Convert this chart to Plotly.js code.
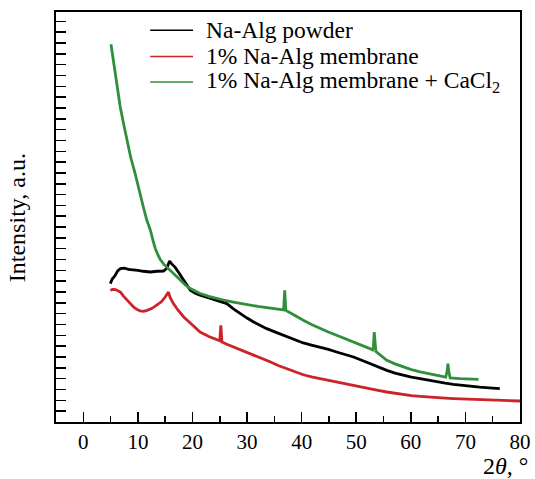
<!DOCTYPE html>
<html>
<head>
<meta charset="utf-8">
<script src="https://cdn.plot.ly/plotly-3.0.1.min.js"></script>
<style>
  html, body { margin: 0; padding: 0; background: #fff; }
  #chart { width: 535px; height: 479px; }
</style>
</head>
<body>
<div id="chart"></div>
<script>
// ---- data ----
const seriesNames = ["Na-Alg powder", "1% Na-Alg membrane", "1% Na-Alg membrane + CaCl<sub>2</sub>"];
const seriesColors = ["#000000", "#cc2229", "#2f8f3a"];

const powderX = [4.95, 5.3, 5.86, 6.3, 6.8, 7.5, 8.3, 9.2, 10.0, 11.0, 12.3, 13.5, 14.7, 15.3, 15.8, 16.2, 16.8, 17.6, 18.4, 19.0, 19.6, 20.5, 21.4, 23.0, 24.5, 25.5, 26.3, 27.5, 28.7, 30.0, 31.2, 32.4, 33.6, 35.2, 36.7, 38.0, 39.1, 40.3, 41.8, 43.4, 44.9, 46.4, 48.0, 49.5, 51.0, 52.5, 54.0, 55.6, 57.1, 58.6, 60.1, 61.7, 63.2, 64.8, 66.3, 67.8, 69.3, 70.8, 72.6, 74.4, 76.3];
const powderY = [1278, 1320, 1355, 1395, 1416, 1420, 1410, 1407, 1400, 1392, 1385, 1392, 1394, 1420, 1487, 1460, 1431, 1370, 1308, 1260, 1216, 1190, 1170, 1145, 1124, 1110, 1093, 1045, 1001, 960, 923, 890, 862, 830, 801, 775, 754, 730, 710, 693, 670, 646, 623, 600, 570, 539, 508, 477, 452, 431, 415, 401, 385, 369, 358, 348, 338, 330, 322, 315, 308];

const membraneX = [4.95, 5.4, 5.9, 6.3, 6.8, 7.4, 8.0, 8.6, 9.2, 9.8, 10.4, 11.0, 11.7, 12.6, 13.5, 14.3, 15.0, 15.35, 15.6, 15.9, 16.5, 17.4, 18.4, 19.9, 21.4, 23.0, 24.5, 25.0, 25.2, 25.4, 26.4, 27.5, 29.0, 30.6, 32.4, 34.2, 35.7, 37.3, 38.8, 40.3, 41.8, 43.4, 44.9, 46.4, 48.0, 49.5, 51.0, 52.5, 54.0, 55.6, 57.1, 58.6, 60.1, 61.7, 63.2, 64.8, 66.3, 67.8, 69.3, 70.8, 72.3, 73.9, 75.5, 77.0, 78.5, 80.0];
const membraneY = [1216, 1225, 1223, 1215, 1200, 1160, 1124, 1090, 1062, 1040, 1025, 1022, 1031, 1050, 1078, 1110, 1154, 1180, 1200, 1150, 1093, 1030, 970, 900, 831, 790, 761, 750, 893, 739, 715, 693, 660, 632, 594, 556, 522, 490, 460, 436, 416, 399, 383, 369, 354, 339, 323, 308, 292, 277, 264, 253, 244, 237, 230, 225, 220, 216, 213, 210, 206, 203, 201, 200, 197, 194];

const cacl2X = [5.07, 5.4, 5.86, 6.3, 6.77, 7.4, 8.0, 8.7, 9.5, 10.2, 11.0, 11.6, 12.3, 12.8, 13.2, 13.7, 14.1, 14.7, 15.3, 16.0, 16.5, 17.2, 17.8, 18.7, 19.6, 20.5, 21.4, 23.0, 24.5, 26.0, 27.5, 29.0, 30.6, 32.0, 33.6, 35.0, 36.4, 36.7, 36.9, 37.1, 37.4, 38.8, 40.3, 41.8, 43.4, 44.9, 46.4, 48.0, 49.5, 51.0, 52.5, 53.0, 53.15, 53.3, 53.45, 53.6, 54.6, 55.6, 57.1, 58.6, 60.1, 61.7, 63.2, 64.8, 66.4, 66.65, 66.8, 66.95, 67.2, 69.0, 70.7, 72.4];
const cacl2Y = [3488, 3380, 3217, 3060, 2909, 2750, 2601, 2440, 2294, 2140, 1985, 1870, 1770, 1670, 1600, 1540, 1500, 1460, 1431, 1395, 1370, 1335, 1308, 1265, 1232, 1206, 1186, 1160, 1139, 1122, 1108, 1093, 1078, 1067, 1056, 1044, 1031, 1035, 1216, 1030, 1022, 980, 939, 900, 862, 831, 801, 770, 739, 708, 678, 665, 700, 831, 700, 650, 610, 570, 537, 508, 484, 462, 445, 431, 415, 470, 539, 470, 408, 401, 397, 394];

const xTickVals = [0, 10, 20, 30, 40, 50, 60, 70, 80];
const xTickText = ["0", "10", "20", "30", "40", "50", "60", "70", "80"];
const xTitle = "2<i>θ</i>, °";
const yTitle = "Intensity, a.u.";

// ---- chart ----
const FONT = "'Liberation Serif', 'Times New Roman', Times, serif";
const xs = [powderX, membraneX, cacl2X];
const ys = [powderY, membraneY, cacl2Y];

const traces = xs.map((x, i) => ({
  x: x, y: ys[i], type: "scatter", mode: "lines",
  name: seriesNames[i], showlegend: false,
  line: { color: seriesColors[i], width: 2.8 }
}));

// manual legend (lines + labels) in paper coordinates
const legendRowsY = [0.9554, 0.8915, 0.8293];
const shapes = seriesNames.map((n, i) => ({
  type: "line", xref: "paper", yref: "paper",
  x0: 0.203, x1: 0.2954, y0: legendRowsY[i], y1: legendRowsY[i],
  line: { color: seriesColors[i], width: 1.5 }
}));
const annotations = seriesNames.map((n, i) => ({
  xref: "paper", yref: "paper", x: 0.318, y: legendRowsY[i],
  xanchor: "left", yanchor: "middle", showarrow: false,
  text: n, font: { family: FONT, size: 23.5, color: "#000" }
}));
annotations.push({
  xref: "paper", yref: "paper", x: 1.021, y: -0.108,
  xanchor: "right", yanchor: "middle", showarrow: false,
  text: xTitle, font: { family: FONT, size: 24, color: "#000" }
});
annotations.push({
  xref: "paper", yref: "paper", x: -0.0854, y: 0.498,
  xanchor: "center", yanchor: "middle", showarrow: false, textangle: -90,
  text: yTitle, font: { family: FONT, size: 24, color: "#000" }
});

const layout = {
  width: 535, height: 479,
  margin: { l: 56, r: 15, t: 12, b: 57, pad: 0 },
  paper_bgcolor: "#fff", plot_bgcolor: "#fff",
  showlegend: false,
  font: { family: FONT, size: 21, color: "#000" },
  xaxis: {
    range: [-5, 80], showgrid: false, zeroline: false,
    showline: true, linecolor: "#000", linewidth: 2, mirror: true,
    tickmode: "array", tickvals: xTickVals, ticktext: xTickText,
    ticks: "inside", ticklen: 10, tickwidth: 1.5, tickcolor: "#000",
    minor: { ticks: "inside", dtick: 5, tick0: 0, ticklen: 6, tickwidth: 1.5, tickcolor: "#000", showgrid: false },
    tickfont: { family: FONT, size: 21, color: "#000" }
  },
  yaxis: {
    range: [0, 3786], showgrid: false, zeroline: false,
    showline: true, linecolor: "#000", linewidth: 2, mirror: true,
    tick0: 0, dtick: 100, showticklabels: false,
    ticks: "inside", ticklen: 10, tickwidth: 1.5, tickcolor: "#000"
  },
  shapes: shapes,
  annotations: annotations
};

Plotly.newPlot("chart", traces, layout, { staticPlot: true, displayModeBar: false });
</script>
</body>
</html>
